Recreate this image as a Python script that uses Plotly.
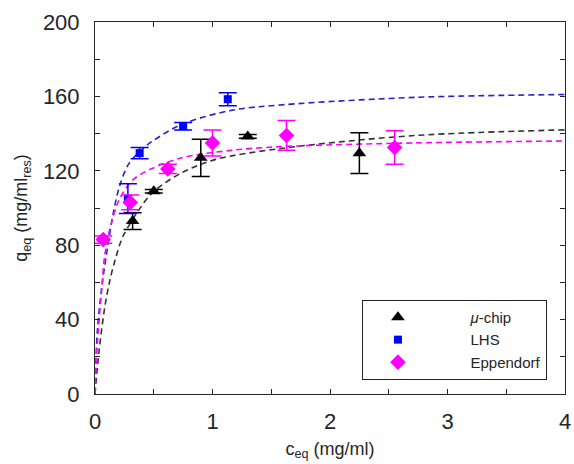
import plotly.graph_objects as go

# ---- data ----
chip_c = [0.32, 0.50, 0.90, 1.30, 2.25]
chip_q = [93, 109, 127, 138.5, 129.5]
chip_err = [4.5, 1.0, 10, 1.0, 11]

lhs_c = [0.28, 0.38, 0.75, 1.13]
lhs_q = [105, 129.5, 144, 158.5]
lhs_err = [8, 3, 2, 3.5]

epp_c = [0.07, 0.30, 0.62, 1.00, 1.63, 2.55]
epp_q = [83, 103, 121, 135, 139, 132.5]
epp_err = [2, 4, 2.5, 7, 8, 9]

# fitted curves
chip_fit_c = [0, 0.036, 0.084, 0.126, 0.18, 0.24, 0.43, 0.52, 0.74, 1.02, 1.58, 2.73, 4.0]
chip_fit_q = [0, 24, 47, 61, 74, 85, 104, 110, 119, 126, 132, 139, 142]

lhs_fit_c = [0, 0.02, 0.065, 0.11, 0.155, 0.21, 0.29, 0.41, 0.49, 0.74, 1.16, 1.6, 2.73, 4.0]
lhs_fit_q = [0, 34, 61, 80, 97, 112, 124, 132, 136, 145, 152.5, 155.5, 159.5, 161]

epp_fit_c = [0, 0.008, 0.028, 0.056, 0.084, 0.14, 0.21, 0.32, 0.46, 0.74, 1.16, 1.58, 2.73, 4.0]
epp_fit_q = [0, 15, 34, 56, 75, 92, 105, 115, 120.5, 127, 131, 133, 135, 136]

x_ticks = [0, 1, 2, 3, 4]
y_ticks = [0, 40, 80, 120, 160, 200]

BLACK = "#000000"
BLUE = "#0000ff"
MAG = "#ff00ff"
AX = "#262626"
FONT = "Liberation Sans, Arial, sans-serif"
PAD = "&nbsp;" * 9

fig = go.Figure()

for fc, fq, col in [(chip_fit_c, chip_fit_q, "#333333"),
                    (lhs_fit_c, lhs_fit_q, "#2424c8"),
                    (epp_fit_c, epp_fit_q, MAG)]:
    fig.add_trace(go.Scatter(x=fc, y=fq, mode="lines",
                             line=dict(color=col, width=1.6, dash="6px,4px", shape="spline", smoothing=0.9),
                             showlegend=False, hoverinfo="skip"))

for c, q, e, col, sym, sz, name in [
        (chip_c, chip_q, chip_err, BLACK, "triangle-up", 12, "<i>μ</i>-chip"),
        (lhs_c, lhs_q, lhs_err, BLUE, "square", 8, "LHS"),
        (epp_c, epp_q, epp_err, MAG, "diamond", 12, "Eppendorf")]:
    fig.add_trace(go.Scatter(x=c, y=q, mode="markers", name=PAD + name,
                             marker=dict(color=col, symbol=sym, size=sz, line=dict(width=0)),
                             error_y=dict(type="data", array=e, visible=True, color=col,
                                          thickness=1.5, width=9)))

axis_common = dict(showgrid=False, zeroline=False, showline=True, linecolor=AX,
                   linewidth=1, mirror="ticks", ticks="inside", ticklen=5, tickcolor=AX,
                   ticklabeloverflow="allow",
                   tickfont=dict(family=FONT, size=22, color=AX))

fig.update_layout(
    width=574, height=464,
    margin=dict(l=95, r=3, t=22, b=70),
    paper_bgcolor="white", plot_bgcolor="white",
    font=dict(family=FONT, color=AX),
    xaxis=dict(range=[0, 4], tickvals=x_ticks, ticklabelstandoff=8,
               minor=dict(dtick=0.5, ticks="inside", ticklen=5, tickcolor=AX),
               title=dict(text="c<sub>eq</sub> (mg/ml)", font=dict(size=18), standoff=8),
               **axis_common),
    yaxis=dict(range=[0, 200], tickvals=y_ticks, ticklabelstandoff=10,
               minor=dict(dtick=20, ticks="inside", ticklen=5, tickcolor=AX),
               title=dict(text="q<sub>eq</sub> (mg/ml<sub>res</sub>)", font=dict(size=18), standoff=10),
               **axis_common),
    legend=dict(x=0.568, y=0.253, xanchor="left", yanchor="top",
                bgcolor="white", bordercolor=AX, borderwidth=1,
                font=dict(size=15, color=AX), itemwidth=60, tracegroupgap=0),
    showlegend=True,
)

fig.write_html("out.html")
